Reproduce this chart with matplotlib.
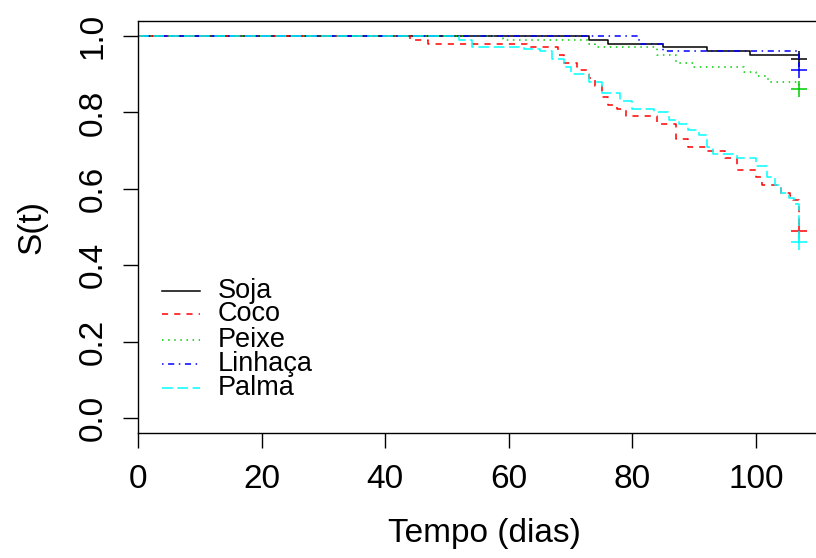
import matplotlib
matplotlib.use("Agg")
import matplotlib.pyplot as plt
from matplotlib.lines import Line2D

plt.rcParams['font.family'] = ['Liberation Sans', 'DejaVu Sans']

# Kaplan-Meier curves (time in days, S(t))
soja_t = [0, 73, 76, 85, 92, 99, 107]
soja_s = [1.0, 0.99, 0.98, 0.97, 0.96, 0.95, 0.94]

coco_t = [0, 44, 47, 63, 68, 69, 71, 73, 74, 75, 76, 77.5, 79, 84, 87, 89, 92,
          95, 97, 100, 101, 104, 105.5, 106, 107]
coco_s = [1.0, 0.99, 0.98, 0.97, 0.95, 0.93, 0.91, 0.89, 0.87, 0.84, 0.82, 0.81,
          0.79, 0.77, 0.73, 0.71, 0.70, 0.68, 0.65, 0.63, 0.61, 0.59, 0.58, 0.57, 0.49]

peixe_t = [0, 59, 73, 74, 84, 87, 90, 98, 100, 102, 107]
peixe_s = [1.0, 0.99, 0.98, 0.97, 0.95, 0.93, 0.92, 0.907, 0.894, 0.88, 0.86]

linhaca_t = [0, 81, 85, 107]
linhaca_s = [1.0, 0.98, 0.96, 0.91]

palma_t = [0, 52, 54, 62.5, 65, 67, 69, 70, 73, 75, 78, 80, 83.5, 86, 87.5, 89,
           90.7, 92, 93, 97, 100, 101.8, 103, 104, 105.3, 106.2, 107]
palma_s = [1.0, 0.99, 0.97, 0.965, 0.96, 0.94, 0.92, 0.90, 0.88, 0.85, 0.83, 0.81,
           0.80, 0.78, 0.77, 0.755, 0.74, 0.71, 0.69, 0.68, 0.66, 0.63, 0.61, 0.59,
           0.575, 0.56, 0.46]

labels = ["Soja", "Coco", "Peixe", "Linhaça", "Palma"]
colors = ["black", "#FF0000", "#00CD00", "#0000FF", "#00FFFF"]
styles = ["-", (0, (4, 4)), (0, (1, 3)), (0, (1, 3, 4, 3)), (0, (7, 3))]
curves = [(soja_t, soja_s), (coco_t, coco_s), (peixe_t, peixe_s),
          (linhaca_t, linhaca_s), (palma_t, palma_s)]

W, H = 816, 558
fig = plt.figure(figsize=(W / 100, H / 100), dpi=100)

def fx(px):
    return px / W

def fy(py):
    return 1 - py / H

ax = fig.add_axes([fx(138), fy(433.3), 112 * 6.18 / W, (433.3 - 20.7) / H])
ax.set_xlim(0, 112)
ax.set_ylim(-0.04, 1.04)

for (t, s), c, ls in zip(curves, colors, styles):
    ax.step(t, s, where='post', color=c, linestyle=ls, linewidth=1.1)
    ax.plot(t[-1], s[-1], marker='+', color=c, markersize=11, markeredgewidth=1.1,
            linestyle='none')

ax.spines['right'].set_visible(False)
for sp in ax.spines.values():
    sp.set_linewidth(1.0)

ax.set_xticks([0, 20, 40, 60, 80, 100])
ax.set_yticks([0.0, 0.2, 0.4, 0.6, 0.8, 1.0])
ax.set_yticklabels(["0.0", "0.2", "0.4", "0.6", "0.8", "1.0"], rotation=90, va='center')
ax.tick_params(axis='both', length=11, width=1.0, labelsize=24)
ax.tick_params(axis='x', pad=11)
ax.tick_params(axis='y', pad=10)

ax.set_xlabel("Tempo (dias)", fontsize=24, labelpad=17)
ax.set_ylabel("S(t)", fontsize=24, labelpad=22)

# legend drawn by hand, no frame
row_y = [290.7, 314.0, 340.0, 364.3, 388.3]
for lab, c, ls, y in zip(labels, colors, styles, row_y):
    fig.add_artist(Line2D([fx(162), fx(200)], [fy(y), fy(y)], color=c,
                          linestyle=ls, linewidth=1.1))
    fig.text(fx(218), fy(y), lab, fontsize=19.5, va='center', ha='left')

fig.savefig("out.png", dpi=100)
